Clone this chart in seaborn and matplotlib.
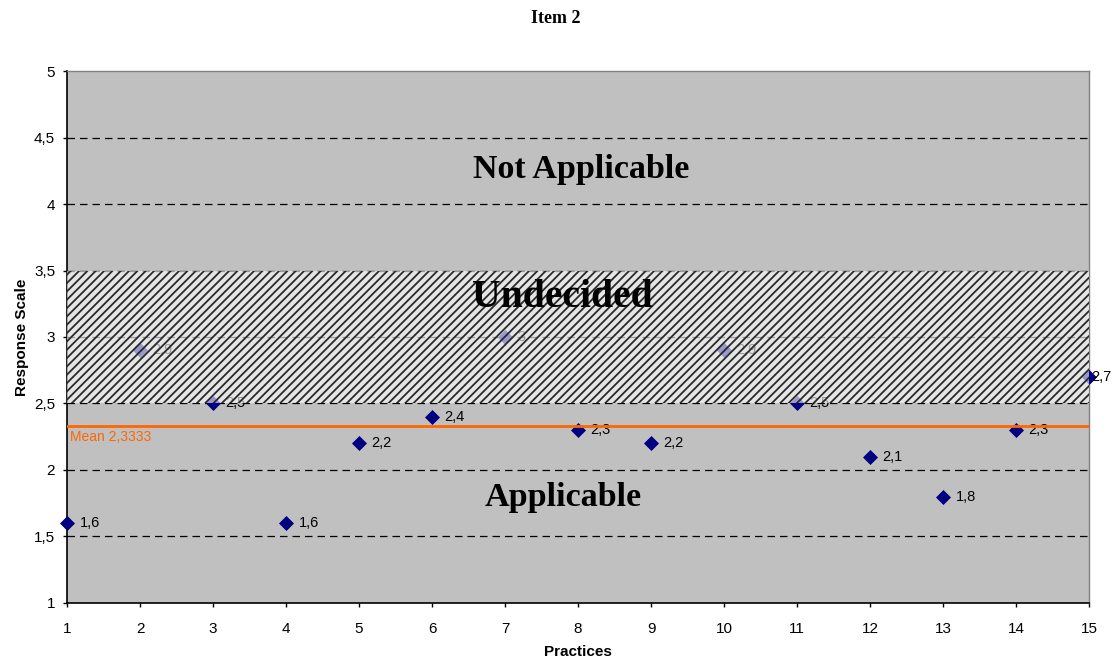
import matplotlib
matplotlib.use("Agg")
import matplotlib.pyplot as plt
import seaborn as sns
import pandas as pd
from matplotlib.patches import Rectangle

practices = list(range(1, 16))
scores = [1.6, 2.9, 2.5, 1.6, 2.2, 2.4, 3.0, 2.3, 2.2, 2.9, 2.5, 2.1, 1.8, 2.3, 2.7]
score_labels = ["1,6", "2,9", "2,5", "1,6", "2,2", "2,4", "3", "2,3", "2,2", "2,9", "2,5", "2,1", "1,8", "2,3", "2,7"]
yticks = [1, 1.5, 2, 2.5, 3, 3.5, 4, 4.5, 5]
ytick_labels = ["1", "1,5", "2", "2,5", "3", "3,5", "4", "4,5", "5"]
mean_value = sum(scores) / len(scores)
mean_label = "Mean 2,3333"
zones = ["Not Applicable", "Undecided", "Applicable"]
zone_x = [8.05, 7.78, 7.8]
zone_y = [4.26, 3.30, 1.79]
zone_size = [24.5, 28.5, 24.5]

df = pd.DataFrame({"Practices": practices, "Score": scores})

plt.rcParams["hatch.linewidth"] = 1.3
plt.rcParams["font.family"] = ["Liberation Sans", "DejaVu Sans"]

fig = plt.figure(figsize=(11.12, 6.6), dpi=100)
ax = fig.add_axes([0.0603, 0.0864, 0.9190, 0.8060])
ax.set_facecolor("#C0C0C0")

for y in [1.5, 2, 2.5, 3, 3.5, 4, 4.5]:
    ax.axhline(y, color="black", lw=0.9, ls=(0, (6, 4)), zorder=1)

sns.scatterplot(data=df, x="Practices", y="Score", marker="D", s=50,
                color="#000080", edgecolor="#000080", ax=ax, zorder=3, clip_on=False)
for i, (x, y, t) in enumerate(zip(practices, scores, score_labels)):
    dx = 0.03 if i == len(practices) - 1 else 0.17
    ax.text(x + dx, y, t, fontsize=10.5, va="center", ha="left", color="black", zorder=3)

ax.axhline(mean_value, color="#FF6600", lw=2, zorder=4)
ax.text(1.04, mean_value - 0.03, mean_label, color="#FF6600", fontsize=10, va="top", ha="left", zorder=4)

# hatched "undecided" band
ax.add_patch(Rectangle((1, 2.5), 14, 1.0, facecolor="white", edgecolor="none", alpha=0.6, zorder=5))
ax.add_patch(Rectangle((1, 2.5), 14, 1.0, facecolor="none", edgecolor="#2a2a2a", lw=0,
                       hatch="////", zorder=5))

for t, x, y, fs in zip(zones, zone_x, zone_y, zone_size):
    ax.text(x, y, t, fontsize=fs, fontweight="bold", family="Liberation Serif",
            ha="center", va="center", zorder=6)

ax.set_xlim(1, 15)
ax.set_ylim(1, 5)
ax.set_xticks(practices)
ax.set_xticklabels([str(p) for p in practices], fontsize=11)
ax.set_yticks(yticks)
ax.set_yticklabels(ytick_labels, fontsize=11)
ax.tick_params(direction="out", length=3, width=1, color="black")
ax.tick_params(axis="y", pad=5.5)
ax.tick_params(axis="x", pad=11)
ax.set_xlabel("Practices", fontsize=11, fontweight="bold", labelpad=6)
ax.set_ylabel("Response Scale", fontsize=11, fontweight="bold", labelpad=4)
for s in ["top", "right"]:
    ax.spines[s].set_color("#808080")
    ax.spines[s].set_linewidth(1)
for s in ["left", "bottom"]:
    ax.spines[s].set_color("black")
    ax.spines[s].set_linewidth(1.2)

fig.text(0.5, 0.972, "Item 2", fontsize=13, fontweight="bold", family="Liberation Serif",
         ha="center", va="center")

fig.savefig("out.png", dpi=100)
